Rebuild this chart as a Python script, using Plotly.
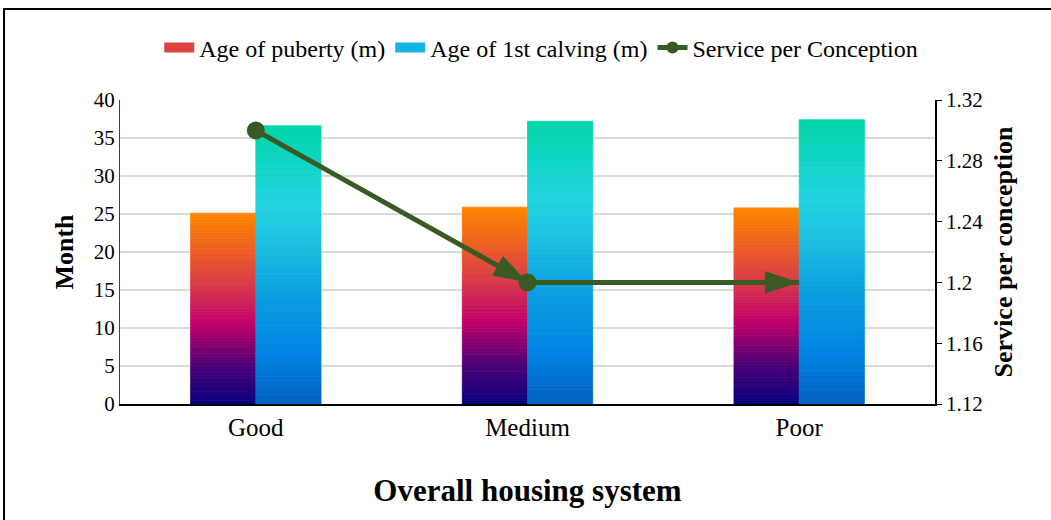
import plotly.graph_objects as go
from plotly.subplots import make_subplots
from plotly.colors import sample_colorscale

categories = ["Good", "Medium", "Poor"]
age_puberty = [25.1, 25.9, 25.8]
age_calving = [36.6, 37.2, 37.4]
service_per_conception = [1.30, 1.20, 1.20]

puberty_scale = [[0.0, "#0A007E"], [0.2, "#4B0076"], [0.42, "#C2006A"],
                 [0.62, "#D6394A"], [0.82, "#EE6220"], [1.0, "#FF8600"]]
calving_scale = [[0.0, "#0060C2"], [0.18, "#0084E2"], [0.4, "#0C9FE0"],
                 [0.6, "#1EC4E0"], [0.72, "#22D3E0"], [0.86, "#12D5C6"], [1.0, "#02D4A8"]]

FONT = "Liberation Serif"
N = 60

fig = make_subplots(specs=[[{"secondary_y": True}]])

def add_gradient_bars(values, scale, name, group, legend_color):
    cols = sample_colorscale(scale, [(i + 0.5) / N for i in range(N)])
    for i in range(N):
        fig.add_trace(go.Bar(
            x=categories, y=[v / N for v in values], base=[v * i / N for v in values],
            offsetgroup=group, marker=dict(color=cols[i], line=dict(width=0.8, color=cols[i])),
            showlegend=False, name=name, hoverinfo="skip"), secondary_y=False)
    # legend-only swatch (wide rectangle)
    fig.add_trace(go.Scatter(x=[None], y=[None], name=name, mode="lines",
                             line=dict(color=legend_color, width=15),
                             showlegend=True), secondary_y=False)

add_gradient_bars(age_puberty, puberty_scale, "Age of puberty (m)", "pub", "#DC4040")
add_gradient_bars(age_calving, calving_scale, "Age of 1st calving (m)", "calv", "#16B4E2")

line_color = "#3A5A24"
fig.add_trace(go.Scatter(
    x=categories, y=service_per_conception, mode="lines+markers",
    name="Service per Conception",
    line=dict(color=line_color, width=5),
    marker=dict(symbol="circle", size=[18, 18, 0], color=line_color, opacity=1,
                line=dict(width=0)),
), secondary_y=True)
fig.add_trace(go.Scatter(
    x=categories, y=service_per_conception, mode="markers", showlegend=False,
    marker=dict(symbol="arrow", angleref="previous", size=[0, 36, 36], opacity=1,
                color=line_color, line=dict(width=0)),
    hoverinfo="skip"), secondary_y=True)

fig.update_layout(
    width=1051, height=520,
    margin=dict(l=120, r=116, t=100, b=116, autoexpand=False),
    paper_bgcolor="white", plot_bgcolor="white",
    barmode="group", bargap=0.52, bargroupgap=0,
    font=dict(family=FONT, size=20, color="black"),
    legend=dict(orientation="h", x=0.515, xanchor="center", xref="container",
                y=1 - 48 / 520, yanchor="middle", yref="container",
                font=dict(family=FONT, size=24), itemwidth=30, traceorder="normal",
                bgcolor="rgba(0,0,0,0)"),
    shapes=[dict(type="rect", xref="paper", yref="paper",
                 x0=-0.1423, x1=1.5, y0=-1, y1=1.2993,
                 line=dict(color="black", width=2), fillcolor="rgba(0,0,0,0)", layer="below")],
)

fig.update_xaxes(
    domain=[0, 1],
    showline=True, linecolor="black", linewidth=1.5, ticks="", automargin=False,
    tickfont=dict(family=FONT, size=25),
    title=dict(text="<b>Overall housing system</b>", font=dict(family=FONT, size=31), standoff=40),
)
fig.update_yaxes(
    range=[0, 40], dtick=5, showgrid=True, gridcolor="#D9D9D9", gridwidth=1.5,
    showline=True, linecolor="#404040", linewidth=1, ticks="", automargin=False,
    tickfont=dict(family=FONT, size=21), zeroline=False,
    title=dict(text="<b>Month</b>", font=dict(family=FONT, size=26), standoff=12),
    secondary_y=False,
)
fig.update_yaxes(
    range=[1.12, 1.32], dtick=0.04, showgrid=False, automargin=False,
    showline=True, linecolor="black", linewidth=1.5, ticks="outside", ticklen=5,
    tickcolor="black", tickfont=dict(family=FONT, size=21), zeroline=False,
    title=dict(text="<b>Service per conception</b>", font=dict(family=FONT, size=26), standoff=12),
    secondary_y=True,
)

fig.write_html("out.html", config={"displayModeBar": False},
               post_script="document.body.style.margin='0';document.body.style.overflow='hidden';")
